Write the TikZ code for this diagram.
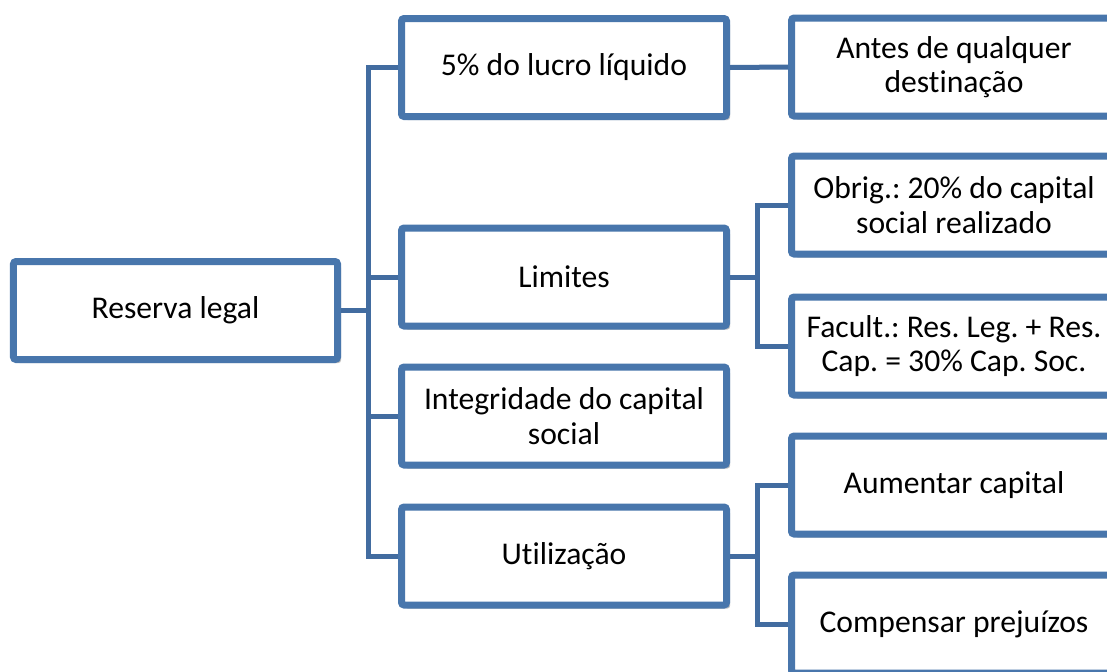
\documentclass[tikz,border=0pt]{standalone}
\usepackage{fontspec}
\setmainfont{Carlito}[Ligatures=NoCommon]
\usetikzlibrary{shadows}
\frenchspacing
\begin{document}
\begin{tikzpicture}[
    bx/.style={shape=rectangle,draw=rl_border,fill=white,line width=0.14cm,rounded corners=1.5pt,
      minimum width=6.5cm,minimum height=1.96cm,align=center,font=\fontsize{18}{19.6}\selectfont,
      drop shadow={shadow xshift=0.07cm,shadow yshift=-0.07cm,fill=black,opacity=0.25}},
    link/.style={draw=rl_link,line width=0.1cm}]
    \definecolor{rl_border}{RGB}{72,118,172}
    \definecolor{rl_link}{RGB}{66,108,160}
    \clip (0,0) rectangle (22.14,-13.42);
    % level 1
    \node[bx,minimum width=6.48cm] (root) at (3.51,-6.21) {Reserva legal};
    % level 2
    \node[bx] (lucro) at (11.28,-1.35) {5\% do lucro líquido};
    \node[bx] (limites) at (11.28,-5.54) {Limites};
    \node[bx] (integr) at (11.28,-8.32) {Integridade do capital\\social};
    \node[bx] (utiliz) at (11.28,-11.12) {Utilização};
    % level 3
    \node[bx] (antes) at (19.08,-1.34) {Antes de qualquer\\destinação};
    \node[bx] (obrig) at (19.08,-4.10) {Obrig.: 20\% do capital\\social realizado};
    \node[bx] (facult) at (19.08,-6.92) {Facult.: Res. Leg. + Res.\\Cap. = 30\% Cap. Soc.};
    \node[bx] (aument) at (19.08,-9.70) {Aumentar capital};
    \node[bx] (compens) at (19.08,-12.48) {Compensar prejuízos};
    % connectors
    \coordinate (busroot) at (7.36,-6.21);
    \coordinate (buslim) at (15.14,-5.54);
    \coordinate (busutil) at (15.14,-11.12);
    \foreach \c in {lucro,limites,integr,utiliz}
      \draw[link] (root.east) -- (busroot) |- (\c.west);
    \foreach \c in {obrig,facult}
      \draw[link] (limites.east) -- (buslim) |- (\c.west);
    \foreach \c in {aument,compens}
      \draw[link] (utiliz.east) -- (busutil) |- (\c.west);
    \draw[link] (lucro.east) -- (antes.west);
\end{tikzpicture}
\end{document}
